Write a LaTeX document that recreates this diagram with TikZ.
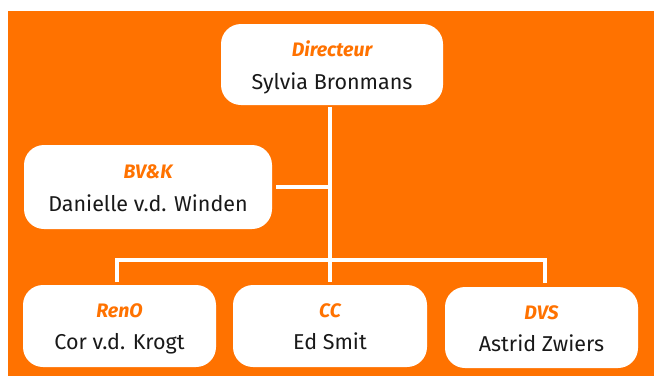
\documentclass[tikz,border=0pt]{standalone}
\usepackage{fontspec}
\setmainfont{Fira Sans}
\definecolor{ro}{HTML}{FF7200}
\tikzset{
  unitbox/.style={draw=none, fill=white, rounded corners=20pt, inner sep=0pt},
  ttl/.style={anchor=base, text=ro, font=\fontsize{19.5}{22}\selectfont\bfseries\itshape, inner sep=0pt},
  nm/.style={anchor=base, text=black!90, font=\fontsize{21.5}{24}\selectfont, inner sep=0pt},
  wire/.style={draw=white, line width=4.5pt}
}
\begin{document}
\begin{tikzpicture}[x=1pt,y=-1pt]
\useasboundingbox (0,0) rectangle (654,376);
\fill[ro] (8,11) rectangle (654,376);
% boxes
\node[unitbox, minimum width=222pt, minimum height=81pt] (dir) at (332,64.5) {};
\node[unitbox, minimum width=248pt, minimum height=84pt] (bvk) at (148,187) {};
\node[unitbox, minimum width=193pt, minimum height=82pt] (ren) at (119.5,326) {};
\node[unitbox, minimum width=194pt, minimum height=82pt] (cc) at (330,326) {};
\node[unitbox, minimum width=193pt, minimum height=81pt] (dvs) at (541.5,327.5) {};
% texts
\node[ttl] (dirT) at ([yshift=-33pt]dir.north) {Directeur};
\node[nm]  (dirN) at ([yshift=-66pt]dir.north) {Sylvia Bronmans};
\node[ttl] (bvkT) at ([yshift=-34pt]bvk.north) {BV\&K};
\node[nm]  (bvkN) at ([yshift=-67pt]bvk.north) {Danielle v.d. Winden};
\node[ttl] (renT) at ([yshift=-33pt]ren.north) {RenO};
\node[nm]  (renN) at ([yshift=-65pt]ren.north) {Cor v.d. Krogt};
\node[ttl] (ccT) at ([yshift=-33pt]cc.north) {CC};
\node[nm]  (ccN) at ([yshift=-65pt]cc.north) {Ed Smit};
\node[ttl] (dvsT) at ([yshift=-33pt]dvs.north) {DVS};
\node[nm]  (dvsN) at ([yshift=-65pt]dvs.north) {Astrid Zwiers};
% connector points
\coordinate (top) at (330,107);
\coordinate (mid) at (330,187);
\coordinate (bus) at (330,260);
\coordinate (busL) at (117,260);
\coordinate (busR) at (545,260);
\coordinate (renIn) at (117,282);
\coordinate (ccIn) at (330,282);
\coordinate (dvsIn) at (545,283);
\coordinate (bvkIn) at (276,187);
% connectors
\draw[wire] (top) -- (ccIn);
\draw[wire] (bvkIn) -- (mid);
\draw[wire] (renIn) -- (busL) -- (busR) -- (dvsIn);
\end{tikzpicture}
\end{document}
